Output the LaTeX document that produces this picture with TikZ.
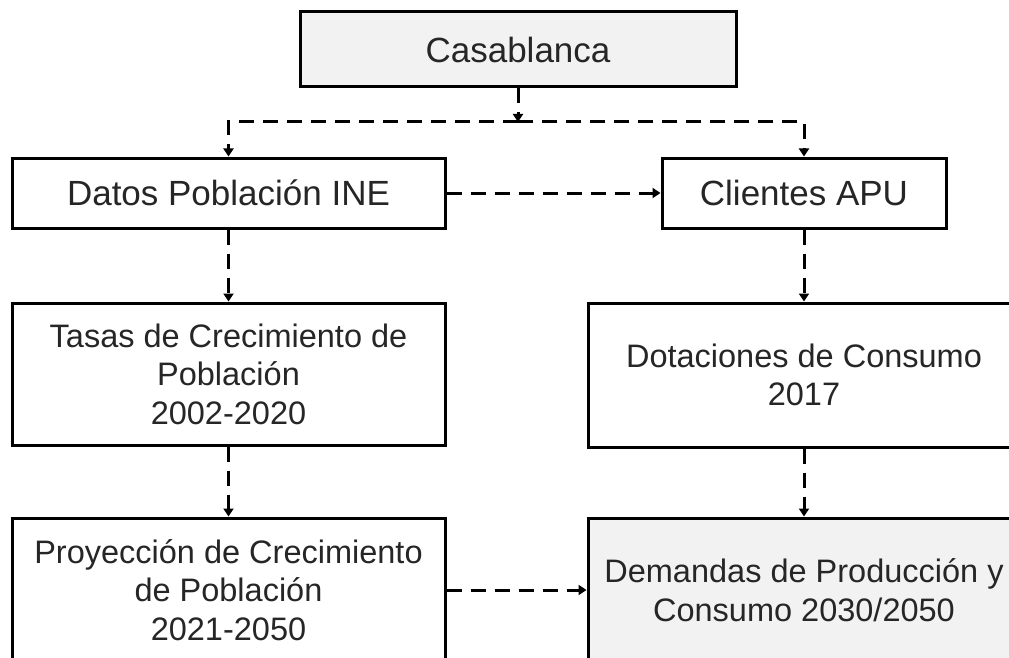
\documentclass[tikz,border=0pt]{standalone}
\usepackage{fontspec}
\setmainfont{Liberation Sans}
\usetikzlibrary{arrows.meta}
\begin{document}
\begin{tikzpicture}[x=1pt,y=-1pt,
  box/.style={draw=black, line width=3pt, fill=white, inner sep=0pt, align=center,
    font=\fontsize{35}{43}\selectfont, text=black!85},
  multibox/.style={box, font=\fontsize{32.5}{38.5}\selectfont},
  graybox/.style={fill=black!5},
  conn/.style={line width=3pt, dash pattern=on 15pt off 9pt,
    -{Triangle[width=10pt,length=8pt]}},
]
\useasboundingbox (0,0) rectangle (1009,658);
\node[box, graybox, minimum width=436pt, minimum height=75pt] (cas) at (518,49.5) {Casablanca};
\node[box, minimum width=433pt, minimum height=70pt] (datos) at (228.5,193) {Datos Población INE};
\node[box, minimum width=284pt, minimum height=70pt] (cli) at (804,193) {Clientes APU};
\node[multibox, minimum width=433pt, minimum height=142pt] (tasas) at (228.5,374) {Tasas de Crecimiento de\\Población\\2002-2020};
\node[multibox, minimum width=432pt, minimum height=144pt] (dot) at (804,375) {Dotaciones de Consumo\\2017};
\node[multibox, minimum width=433pt, minimum height=144pt] (proy) at (228.5,590) {Proyección de Crecimiento\\de Población\\2021-2050};
\node[multibox, graybox, minimum width=432pt, minimum height=144pt] (dem) at (804,590) {Demandas de Producción y\\Consumo 2030/2050};
\coordinate (bus) at (518,122);
\draw[conn] (cas.south) -- (bus);
\draw[conn] (bus) -| (datos.north);
\draw[conn] (bus) -| (cli.north);
\draw[conn] (datos.east) -- (cli.west);
\draw[conn] (datos.south) -- (tasas.north);
\draw[conn] (cli.south) -- (dot.north);
\draw[conn] (tasas.south) -- (proy.north);
\draw[conn] (dot.south) -- (dem.north);
\draw[conn] (proy.east) -- (dem.west);
\end{tikzpicture}
\end{document}
